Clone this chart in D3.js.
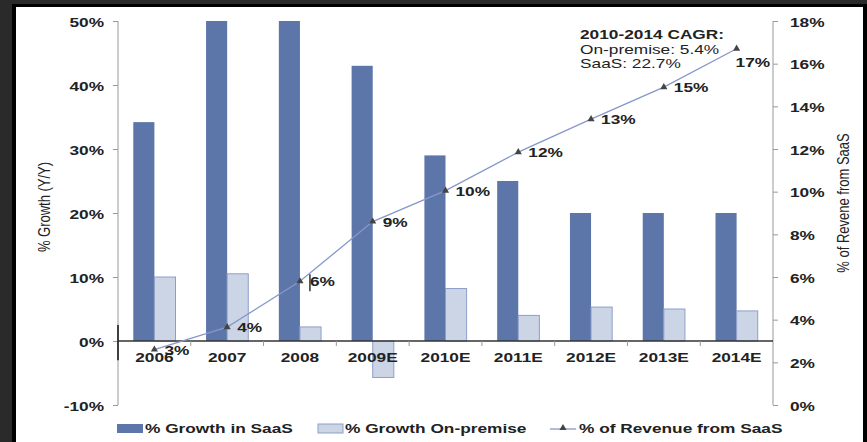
<!DOCTYPE html>
<html>
<head>
<meta charset="utf-8">
<script src="https://cdn.jsdelivr.net/npm/d3@7"></script>
<style>
  html, body { margin: 0; padding: 0; background: #2a2a2a; }
  svg { display: block; font-family: "Liberation Sans", Arial, sans-serif; }
</style>
</head>
<body>
<div class="chart"></div>
<script>
// data
const years = ['2006', '2007', '2008', '2009E', '2010E', '2011E', '2012E', '2013E', '2014E'];
const saasGrowth = [34.2, 50, 50, 43, 29, 25, 20, 20, 20];          // % growth in SaaS (2007/2008 cut at 50%)
const onPremGrowth = [10, 10.5, 2.2, -5.7, 8.2, 4.0, 5.3, 5.0, 4.7]; // % growth on-premise
const saasShare = [2.6, 3.65, 5.8, 8.6, 10.05, 11.85, 13.4, 14.9, 16.7]; // % of revenue from SaaS
const shareLabels = ['3%', '4%', '6%', '9%', '10%', '12%', '13%', '15%', '17%'];
const leftTicks = [-10, 0, 10, 20, 30, 40, 50];
const rightTicks = [0, 2, 4, 6, 8, 10, 12, 14, 16, 18];
const cagrLines = ['2010-2014 CAGR:', 'On-premise: 5.4%', 'SaaS: 22.7%'];

const W = 867, H = 442;
const SX = 1.33; // the source picture is stretched sideways, text too
const darkBlue = '#5d76aa', lightFill = '#ccd5e5', lightStroke = '#8d9fc9';
const at = (px, py) => `translate(${px},${py}) scale(${SX},1)`;

const svg = d3.select('.chart').append('svg')
    .attr('width', W)
    .attr('height', H);

// dark frame + white panel
svg.append('rect').attr('x', 12).attr('y', 4).attr('width', W - 12).attr('height', H - 4).attr('fill', '#000');
svg.append('rect').attr('x', 16).attr('y', 7).attr('width', 847).attr('height', H - 7).attr('fill', '#fff');

const x = d3.scaleBand().domain(years).range([118, 773]).padding(0);
const yL = d3.scaleLinear().domain([-10, 50]).range([405, 21]);
const yR = d3.scaleLinear().domain([0, 18]).range([405, 21]);
const bw = x.bandwidth() * 0.29;
const off = (x.bandwidth() - 2 * bw) / 2;

// left axis
const gl = svg.append('g').attr('transform', 'translate(118,0)')
    .call(d3.axisLeft(yL).tickValues(leftTicks).tickSize(5).tickFormat(d => d + '%'));
gl.select('.domain').attr('stroke', '#999').attr('d', `M-0,${yL(-10)}V${yL(50)}`);
gl.selectAll('.tick line').attr('stroke', '#999');
gl.selectAll('.tick text').attr('x', 0).attr('transform', at(-14, 1))
    .attr('font-size', 13).attr('font-weight', 'bold').attr('fill', '#222');
svg.append('line').attr('x1', 118).attr('x2', 118).attr('y1', yL(2.5)).attr('y2', yL(-3))
    .attr('stroke', '#111').attr('stroke-width', 1.5);

// right axis
const gr = svg.append('g').attr('transform', 'translate(773,0)')
    .call(d3.axisRight(yR).tickValues(rightTicks).tickSize(5).tickFormat(d => d + '%'));
gr.select('.domain').attr('stroke', '#999').attr('d', `M0,${yR(0)}V${yR(18)}`);
gr.selectAll('.tick line').attr('stroke', '#999');
gr.selectAll('.tick text').attr('x', 0).attr('transform', at(17, 1))
    .attr('font-size', 13).attr('font-weight', 'bold').attr('fill', '#222');

// bars
svg.append('g').selectAll('rect')
    .data(saasGrowth)
    .join('rect')
        .attr('x', (d, i) => x(years[i]) + off)
        .attr('y', d => yL(Math.max(d, 0)))
        .attr('width', bw)
        .attr('height', d => Math.abs(yL(d) - yL(0)))
        .attr('fill', darkBlue);

svg.append('g').selectAll('rect')
    .data(onPremGrowth)
    .join('rect')
        .attr('x', (d, i) => x(years[i]) + off + bw)
        .attr('y', d => yL(Math.max(d, 0)))
        .attr('width', bw)
        .attr('height', d => Math.abs(yL(d) - yL(0)))
        .attr('fill', lightFill)
        .attr('stroke', lightStroke)
        .attr('stroke-width', 1);

// x axis at 0%
const gx = svg.append('g').attr('transform', `translate(0,${yL(0)})`);
gx.append('line').attr('x1', 118).attr('x2', 773).attr('stroke', '#333').attr('stroke-width', 1.6);
gx.selectAll('.sep')
    .data(years.slice(1))
    .join('line')
        .attr('x1', d => x(d)).attr('x2', d => x(d))
        .attr('y1', 0).attr('y2', 5)
        .attr('stroke', '#999');
gx.selectAll('text')
    .data(years)
    .join('text')
        .attr('transform', d => at(x(d) + x.bandwidth() / 2, 21))
        .attr('text-anchor', 'middle')
        .attr('font-size', 13).attr('font-weight', 'bold').attr('fill', '#222')
        .text(d => d);

// SaaS share line
const cx = (d, i) => x(years[i]) + x.bandwidth() / 2;
const line = d3.line().x(cx).y(d => yR(d));
svg.append('path')
    .datum(saasShare)
    .attr('d', line)
    .attr('fill', 'none')
    .attr('stroke', '#8797cc')
    .attr('stroke-width', 1.3);

const tri = d3.symbol().type(d3.symbolTriangle).size(22);
svg.append('g').selectAll('path')
    .data(saasShare)
    .join('path')
        .attr('d', tri)
        .attr('transform', (d, i) => `translate(${cx(d, i)},${yR(d)})`)
        .attr('fill', '#444');

svg.append('g').selectAll('text')
    .data(saasShare)
    .join('text')
        .attr('transform', (d, i) => i === 8
            ? at(cx(d, i) - 1, yR(d) + 18)
            : at(cx(d, i) + 10, yR(d) + 5))
        .attr('font-size', 13).attr('font-weight', 'bold').attr('fill', '#222')
        .text((d, i) => shareLabels[i]);

// stray cursor mark next to the 6% label
svg.append('line')
    .attr('x1', cx(saasShare[2], 2) + 10).attr('x2', cx(saasShare[2], 2) + 10)
    .attr('y1', yR(saasShare[2]) - 7).attr('y2', yR(saasShare[2]) + 10)
    .attr('stroke', '#111').attr('stroke-width', 1.3);

// CAGR note
svg.append('g').selectAll('text')
    .data(cagrLines)
    .join('text')
        .attr('transform', (d, i) => at(580, 39 + i * 14.5))
        .attr('font-size', 13)
        .attr('font-weight', (d, i) => i === 0 ? 'bold' : 'normal')
        .attr('fill', '#222')
        .text(d => d);

// axis titles
svg.append('text')
    .attr('transform', 'translate(50,207) rotate(-90) scale(1,1.25)')
    .attr('text-anchor', 'middle')
    .attr('font-size', 13).attr('fill', '#222')
    .text('% Growth (Y/Y)');
svg.append('text')
    .attr('transform', 'translate(849,203) rotate(-90) scale(1,1.25)')
    .attr('text-anchor', 'middle')
    .attr('font-size', 13).attr('fill', '#222')
    .text('% of Revene from SaaS');

// legend
const lg = svg.append('g').attr('font-size', 13).attr('font-weight', 'bold').attr('fill', '#222');
lg.append('rect').attr('x', 117).attr('y', 424).attr('width', 26).attr('height', 9).attr('fill', darkBlue);
lg.append('text').attr('transform', at(145, 433)).text('% Growth in SaaS');
lg.append('rect').attr('x', 318).attr('y', 424).attr('width', 25).attr('height', 9)
    .attr('fill', lightFill).attr('stroke', lightStroke);
lg.append('text').attr('transform', at(345, 433)).text('% Growth On-premise');
lg.append('line').attr('x1', 550).attr('x2', 576).attr('y1', 429).attr('y2', 429).attr('stroke', '#8797cc').attr('stroke-width', 1.3);
lg.append('path').attr('d', tri).attr('transform', 'translate(563,428)').attr('fill', '#444');
lg.append('text').attr('transform', at(579, 433)).text('% of Revenue from SaaS');
</script>
</body>
</html>
